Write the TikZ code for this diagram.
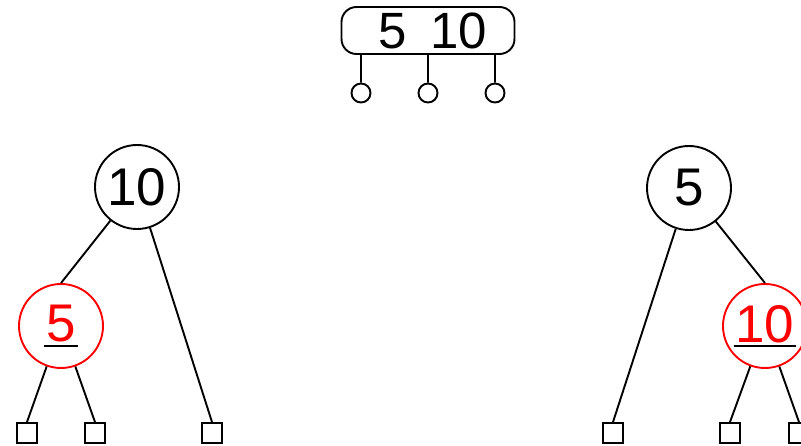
\documentclass[tikz,border=0pt]{standalone}
\usepackage{fontspec}
\setmainfont{Liberation Sans}
\usetikzlibrary{shapes}

\newcommand{\keybar}[1]{\setbox0=\hbox{#1}\rlap{\hspace*{-2pt}\color{black}\raisebox{-5pt}{\rule{\dimexpr\wd0+4pt\relax}{2pt}}}\box0}

\begin{document}
\begin{tikzpicture}[x=1pt, y=-1pt, line width=1.9pt]
      \tikzstyle{key}=[circle, draw, minimum size=84pt, inner sep=0pt, font=\fontsize{53}{53}\selectfont]
      \tikzstyle{red key}=[key, draw=red, text=red]
      \tikzstyle{leaf}=[rectangle, draw, minimum size=20pt, inner sep=0pt]
      \tikzstyle{ptr}=[circle, draw, minimum size=19pt, inner sep=0pt]
      \useasboundingbox (0,0) rectangle (801,446);
      % the 2-node on top
      \node[draw, rounded corners=15pt, minimum width=173pt, minimum height=47pt, font=\fontsize{51}{51}\selectfont] (box) at (428,30.5) {\hspace*{10pt}5\hspace{0.45em}10};
      \node[ptr] (p1) at (361,93) {};
      \node[ptr] (p2) at (428,93) {};
      \node[ptr] (p3) at (495,93) {};
      % left tree
      \node[key] (a) at (137,187) {10};
      \node[red key] (b) at (61,326) {\keybar{5}};
      \node[leaf] (a1) at (27,433) {};
      \node[leaf] (a2) at (95,433) {};
      \node[leaf] (a3) at (212,433) {};
      % right tree
      \node[key] (c) at (689,188) {5};
      \node[red key] (d) at (765,326) {\keybar{10}};
      \node[leaf] (c1) at (613,433) {};
      \node[leaf] (c2) at (730,433) {};
      \node[leaf] (c3) at (799,433) {};
      \path[draw]
      (p1.north) -- (p1.north |- box.south)
      (p2.north) -- (p2.north |- box.south)
      (p3.north) -- (p3.north |- box.south)
      (a) -- (b.north)
      (a) -- (a3.north)
      (b) -- (a1.north)
      (b) -- (a2.north)
      (c) -- (c1.north)
      (c) -- (d.north)
      (d) -- (c2.north)
      (d) -- (c3.north);
    \end{tikzpicture}
\end{document}
